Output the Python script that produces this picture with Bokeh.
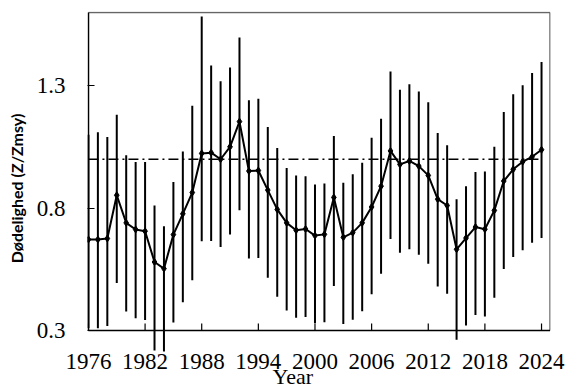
from bokeh.plotting import figure
from bokeh.models import ColumnDataSource, Range1d, FixedTicker, Title
from bokeh.embed import file_html
from bokeh.resources import INLINE

years = list(range(1976, 2025))
z_ratio = [0.672, 0.672, 0.676, 0.853, 0.740, 0.713, 0.706, 0.580, 0.553, 0.692,
           0.777, 0.864, 1.024, 1.027, 1.000, 1.051, 1.154, 0.952, 0.954, 0.874,
           0.795, 0.740, 0.710, 0.715, 0.688, 0.693, 0.844, 0.681, 0.700, 0.740,
           0.805, 0.890, 1.034, 0.979, 0.993, 0.972, 0.934, 0.837, 0.811, 0.632,
           0.678, 0.723, 0.714, 0.791, 0.911, 0.959, 0.990, 1.010, 1.039]
upper = [1.100, 1.110, 1.091, 1.182, 1.016, 0.989, 0.989, 0.811, 0.726, 0.907,
         1.032, 1.219, 1.584, 1.383, 1.319, 1.375, 1.498, 1.241, 1.247, 1.132,
         1.046, 0.964, 0.934, 0.931, 0.897, 0.901, 1.095, 0.904, 0.939, 0.986,
         1.088, 1.166, 1.359, 1.284, 1.307, 1.277, 1.233, 1.107, 1.057, 0.837,
         0.890, 0.948, 0.950, 1.051, 1.193, 1.266, 1.303, 1.353, 1.398]
lower = [0.310, 0.309, 0.318, 0.494, 0.378, 0.350, 0.343, 0.218, 0.214, 0.333,
         0.416, 0.505, 0.665, 0.666, 0.641, 0.692, 0.792, 0.594, 0.596, 0.516,
         0.438, 0.382, 0.352, 0.355, 0.330, 0.334, 0.482, 0.327, 0.344, 0.379,
         0.448, 0.532, 0.674, 0.618, 0.632, 0.610, 0.573, 0.480, 0.450, 0.262,
         0.320, 0.363, 0.357, 0.434, 0.551, 0.600, 0.628, 0.659, 0.678]
reference_level = 1.0
x_ticks = [1976, 1982, 1988, 1994, 2000, 2006, 2012, 2018, 2024]
y_ticks = [0.3, 0.8, 1.3]

# axis box limits (the drawn frame); the plot range is larger below so that
# error bars can run below the x axis as in the original
x_lo, x_hi = 1976, 2024.9
y_lo, y_hi = 0.3, 1.6

src = ColumnDataSource(dict(x=years, z=z_ratio, upper=upper, lower=lower))

p = figure(width=567, height=389, output_backend="svg", toolbar_location=None,
           x_range=Range1d(x_lo - 0.1, x_hi + 0.05),
           y_range=Range1d(y_lo - 0.143, y_hi + 0.004))
p.min_border = 0
p.min_border_left = 87
p.min_border_right = 17
p.min_border_top = 11
p.min_border_bottom = 24
p.background_fill_color = "white"
p.border_fill_color = "white"
p.outline_line_color = None
p.xgrid.visible = False
p.ygrid.visible = False

# frame
p.line([x_lo, x_hi], [y_hi, y_hi], line_color="#666666", line_width=1.5)
p.line([x_hi, x_hi], [y_lo, y_hi], line_color="#666666", line_width=1.5)

# error bars
p.segment(x0="x", y0="lower", x1="x", y1="upper", source=src,
          line_color="black", line_width=2)

# axes lines and x ticks (inside)
p.line([x_lo, x_hi], [y_lo, y_lo], line_color="black", line_width=1.6)
p.line([x_lo, x_lo], [y_lo, y_hi], line_color="black", line_width=1.6)
tick_len = 0.029
p.segment(x0=x_ticks, y0=[y_lo] * len(x_ticks), x1=x_ticks,
          y1=[y_lo + tick_len] * len(x_ticks), line_color="black", line_width=1.2)

p.line([years[0], years[-1]], [reference_level, reference_level], line_color="black",
       line_width=1.6, line_dash="10 4 2 4")
p.line("x", "z", source=src, line_color="black", line_width=2)
p.scatter("x", "z", source=src, marker="diamond", size=7, color="black")

for ax in (p.xaxis[0], p.yaxis[0]):
    ax.axis_line_color = None
    ax.minor_tick_line_color = None
    ax.major_label_text_font = "Liberation Serif"
    ax.major_label_text_font_size = "23px"
    ax.major_label_text_color = "black"

p.xaxis.ticker = FixedTicker(ticks=x_ticks)
p.xaxis.major_tick_line_color = None
p.xaxis.major_tick_in = 0
p.xaxis.major_tick_out = 0
p.xaxis.major_label_standoff = -12

p.yaxis.ticker = FixedTicker(ticks=y_ticks)
p.yaxis.major_tick_line_color = "black"
p.yaxis.major_tick_line_width = 1.2
p.yaxis.major_tick_in = 7
p.yaxis.major_tick_out = 0
p.yaxis.major_label_standoff = 22

p.yaxis.axis_label = "Dødelighed (Z/Zmsy)"
p.yaxis.axis_label_text_font = "Lato"
p.yaxis.axis_label_text_font_size = "16px"
p.yaxis.axis_label_text_font_style = "bold"
p.yaxis.axis_label_text_color = "black"
p.yaxis.axis_label_standoff = 8

p.add_layout(Title(text="Year", align="left", offset=185, vertical_align="top",
                   standoff=-16, text_font="Liberation Serif", text_font_size="22px",
                   text_font_style="normal", text_color="black"), "below")

open("out.html", "w").write(file_html(p, INLINE))
